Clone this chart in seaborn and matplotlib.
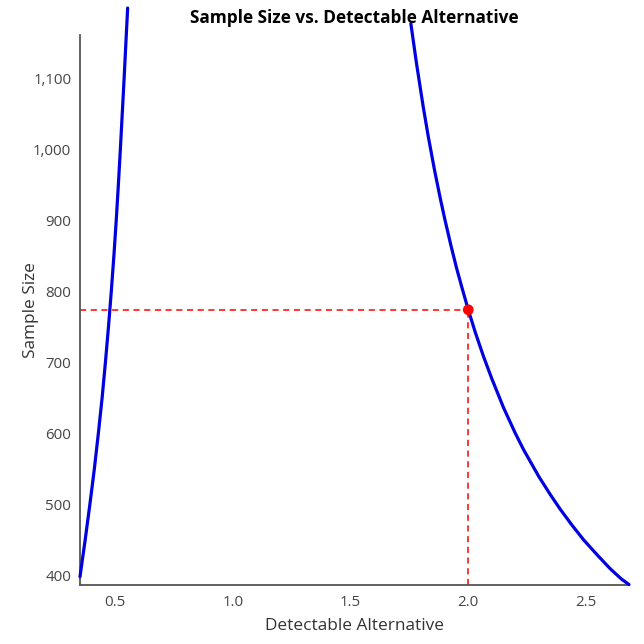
import pandas as pd
import seaborn as sns
import matplotlib as mpl
import matplotlib.pyplot as plt
from matplotlib.ticker import FuncFormatter

# values
left_x = [0.350, 0.372, 0.392, 0.411, 0.428, 0.444, 0.458, 0.471, 0.483, 0.494,
          0.504, 0.513, 0.5215, 0.5295, 0.5375, 0.545, 0.5525]
left_n = [398, 450, 500, 550, 600, 650, 700, 750, 800, 850,
          900, 950, 1000, 1050, 1100, 1150, 1199]

right_x = [1.756, 1.780, 1.808, 1.830, 1.857, 1.881, 1.900, 1.926, 1.950, 1.975,
           2.000, 2.030, 2.065, 2.100, 2.150, 2.200, 2.235, 2.300, 2.350, 2.391,
           2.440, 2.490, 2.550, 2.604, 2.650, 2.683]
right_n = [1177, 1121, 1061, 1018, 970, 931, 902, 865, 833, 803,
           774, 742, 708, 677, 636, 600, 577, 539, 513, 493,
           471, 450, 428, 409, 395, 387]

sel_x = 2.0
sel_n = 774

x_ticks = [0.5, 1.0, 1.5, 2.0, 2.5]
y_ticks = [400, 500, 600, 700, 800, 900, 1000, 1100]
x_lim = (0.350, 2.683)
y_lim = (386.8, 1160.6)

sns.set_style("white")
mpl.rcParams["font.family"] = ["Open Sans", "DejaVu Sans"]

axis_col = "#555555"
text_col = "#333333"

fig = plt.figure(figsize=(6.44, 6.44), dpi=100)
ax = fig.add_axes([80 / 644, 59.3 / 644, 549 / 644, 549.4 / 644])

df_left = pd.DataFrame({"x": left_x, "n": left_n})
df_right = pd.DataFrame({"x": right_x, "n": right_n})

for d in (df_left, df_right):
    sns.lineplot(data=d, x="x", y="n", ax=ax, color="#0000e0", linewidth=2.3,
                 sort=False, estimator=None, clip_on=False, zorder=3)

# dashed guide lines to the selected point
ax.plot([x_lim[0], sel_x], [sel_n, sel_n], color="red", lw=1.1, ls=(0, (4, 3)), zorder=2)
ax.plot([sel_x, sel_x], [y_lim[0], sel_n], color="red", lw=1.1, ls=(0, (4, 3)), zorder=2)
sns.scatterplot(x=[sel_x], y=[sel_n], ax=ax, color="red", s=60, edgecolor="none", zorder=4)

ax.set_xlim(*x_lim)
ax.set_ylim(*y_lim)
ax.set_xticks(x_ticks)
ax.set_yticks(y_ticks)
ax.set_xticks(list(x_lim), minor=True)
ax.set_yticks(list(y_lim), minor=True)
ax.xaxis.set_major_formatter(FuncFormatter(lambda v, p: f"{v:.1f}"))
ax.yaxis.set_major_formatter(FuncFormatter(lambda v, p: f"{int(v):,}"))

for s in ("top", "right"):
    ax.spines[s].set_visible(False)
for s in ("left", "bottom"):
    ax.spines[s].set_color(axis_col)
    ax.spines[s].set_linewidth(1.3)

ax.tick_params(which="both", length=4.3, width=1.1, color=axis_col, direction="out")
ax.tick_params(axis="y", which="major", pad=2, labelsize=10.8, labelcolor="#444444")
ax.tick_params(axis="x", which="major", pad=3, labelsize=10.8, labelcolor="#444444")

ax.set_xlabel("Detectable Alternative", fontsize=12.4, color=text_col)
ax.set_ylabel("Sample Size", fontsize=12.4, color=text_col)
ax.xaxis.set_label_coords(0.5, -0.061)
ax.yaxis.set_label_coords(-0.074, 0.5)

fig.text(354.5 / 644, 1 - 18 / 644, "Sample Size vs. Detectable Alternative",
         ha="center", va="center", fontsize=12.4, fontweight="bold", color="black")

fig.savefig("out.png", dpi=100)
